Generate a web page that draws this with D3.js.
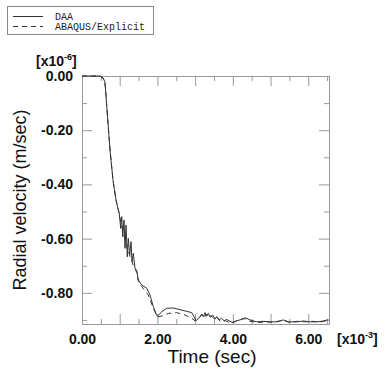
<!DOCTYPE html>
<html>
<head>
<meta charset="utf-8">
<script src="https://cdn.jsdelivr.net/npm/d3@7"></script>
<style>
  body { margin: 0; background: #fff; }
  svg { display: block; }
  .tick text { font-family: "Liberation Sans", Arial, sans-serif; font-size: 14px; font-weight: bold; fill: #111; }
  .axis path, .axis line { stroke: #999; }
</style>
</head>
<body>
<script>
// time in 1e-3 sec, radial velocity in 1e-6 m/sec
var daaTime = [0, 0.48, 0.56, 0.61, 0.663, 0.743, 0.822, 0.902, 0.963, 0.989, 1.027, 1.053, 1.080, 1.114,
  1.141, 1.167, 1.202, 1.228, 1.265, 1.300, 1.326, 1.361, 1.406, 1.451, 1.493, 1.584, 1.716, 1.804,
  1.891, 1.963, 1.997, 2.114, 2.247, 2.422, 2.910, 2.971, 3.024, 3.130, 3.175, 3.218, 3.263, 3.308,
  3.350, 3.395, 3.467, 3.528, 3.573, 3.634, 3.70, 3.77, 3.838, 3.92, 4.013, 4.10, 4.191, 4.324, 4.456,
  4.634, 4.80, 4.987, 5.164, 5.340, 5.472, 5.695, 5.870, 6.048, 6.225, 6.401, 6.533]
var daaVel = [0, 0, -0.007, -0.022, -0.125, -0.273, -0.384, -0.458, -0.494, -0.507, -0.562, -0.519, -0.593, -0.531,
  -0.636, -0.550, -0.667, -0.599, -0.661, -0.611, -0.685, -0.654, -0.710, -0.716, -0.753, -0.771, -0.783, -0.808,
  -0.851, -0.878, -0.886, -0.870, -0.857, -0.856, -0.873, -0.888, -0.903, -0.888, -0.878, -0.888, -0.873, -0.886,
  -0.876, -0.890, -0.882, -0.897, -0.888, -0.900, -0.894, -0.903, -0.898, -0.905, -0.910, -0.903, -0.900, -0.892, -0.900,
  -0.907, -0.905, -0.907, -0.907, -0.900, -0.907, -0.907, -0.904, -0.907, -0.907, -0.904, -0.899]

var abqTime = [0, 0.47, 0.53, 0.58, 0.62, 0.663, 0.743, 0.822, 0.902, 0.963, 1.00, 1.04, 1.08, 1.12, 1.16,
  1.20, 1.24, 1.28, 1.32, 1.36, 1.40, 1.45, 1.49, 1.584, 1.759, 1.891, 1.997, 2.114, 2.289, 2.512, 2.732,
  2.910, 2.997, 3.05, 3.12, 3.18, 3.24, 3.30, 3.36, 3.42, 3.50, 3.58, 3.66, 3.80, 3.95, 4.10, 4.30, 4.45,
  4.65, 5.0, 5.2, 5.35, 5.5, 5.7, 5.9, 6.1, 6.3, 6.53]
var abqVel = [0, 0, -0.004, -0.015, -0.04, -0.125, -0.273, -0.384, -0.458, -0.494, -0.52, -0.545, -0.57, -0.59, -0.61,
  -0.635, -0.65, -0.67, -0.68, -0.70, -0.71, -0.725, -0.755, -0.777, -0.808, -0.857, -0.888, -0.886, -0.876, -0.873, -0.882,
  -0.894, -0.903, -0.90, -0.89, -0.88, -0.892, -0.878, -0.89, -0.884, -0.895, -0.89, -0.905, -0.903, -0.912, -0.903, -0.895, -0.905,
  -0.909, -0.908, -0.905, -0.902, -0.909, -0.905, -0.907, -0.905, -0.908, -0.902]

var xMajor = [0, 1, 2, 3, 4, 5, 6]
var xMinor = [0.5, 1.5, 2.5, 3.5, 4.5, 5.5, 6.5]
var xLabels = [0, 2, 4, 6]
var yMajor = [0, -0.2, -0.4, -0.6, -0.8]
var yMinor = [-0.1, -0.3, -0.5, -0.7, -0.9]

var series = [
  {name: 'DAA', t: daaTime, v: daaVel, dash: null},
  {name: 'ABAQUS/Explicit', t: abqTime, v: abqVel, dash: '5,4'}
]

var width = 392, height = 378
var svg = d3.select('body').append('svg').attr('width', width).attr('height', height)

var x = d3.scaleLinear().domain([0, 6.55]).range([82, 329])
var y = d3.scaleLinear().domain([-0.915, 0]).range([324, 76])

var fmt = d => Math.abs(d) < 1e-9 ? '0.00' : d.toFixed(2)

function axisG(cls){ return svg.append('g').attr('class', 'axis ' + cls) }

// bottom axis
axisG('xb').attr('transform', 'translate(0,324)')
  .call(d3.axisBottom(x).tickValues(xMajor).tickSize(-10).tickPadding(10)
    .tickFormat(d => xLabels.includes(d) ? fmt(d) : ''))
axisG('xbm').attr('transform', 'translate(0,324)')
  .call(d3.axisBottom(x).tickValues(xMinor).tickSize(-5).tickFormat(''))
// top axis
axisG('xt').attr('transform', 'translate(0,76)')
  .call(d3.axisTop(x).tickValues(xMajor).tickSize(-10).tickFormat(''))
axisG('xtm').attr('transform', 'translate(0,76)')
  .call(d3.axisTop(x).tickValues(xMinor).tickSize(-5).tickFormat(''))
// left axis
axisG('yl').attr('transform', 'translate(82,0)')
  .call(d3.axisLeft(y).tickValues(yMajor).tickSize(-10).tickPadding(9).tickFormat(fmt))
axisG('ylm').attr('transform', 'translate(82,0)')
  .call(d3.axisLeft(y).tickValues(yMinor).tickSize(-5).tickFormat(''))
// right axis
axisG('yr').attr('transform', 'translate(329,0)')
  .call(d3.axisRight(y).tickValues(yMajor).tickSize(-10).tickFormat(''))
axisG('yrm').attr('transform', 'translate(329,0)')
  .call(d3.axisRight(y).tickValues(yMinor).tickSize(-5).tickFormat(''))

svg.selectAll('.axis path').attr('stroke', '#999')
svg.selectAll('.axis line').attr('stroke', '#999')

var line = d3.line().x(d => x(d[0])).y(d => y(d[1]))

svg.selectAll('path.series').data(series).join('path')
  .attr('class', 'series')
  .attr('d', s => line(s.t.map((t, i) => [t, s.v[i]])))
  .attr('fill', 'none')
  .attr('stroke', '#333')
  .attr('stroke-width', 1)
  .attr('stroke-dasharray', s => s.dash)

// exponent labels
var expFont = '"Liberation Sans", Arial, sans-serif'
function expLabel(px, py, exp){
  var t = svg.append('text').attr('x', px).attr('y', py)
    .attr('font-family', expFont).attr('font-size', 14).attr('font-weight', 'bold').attr('fill', '#111')
  t.append('tspan').text('[x10')
  t.append('tspan').attr('font-size', 9).attr('dy', -6).text(exp)
  t.append('tspan').attr('dy', 6).text(']')
}
expLabel(36, 66, '-6')
expLabel(337, 344, '-3')

// axis titles
svg.append('text')
  .attr('x', 212).attr('y', 363)
  .attr('text-anchor', 'middle')
  .attr('font-family', expFont).attr('font-size', 19).attr('fill', '#111')
  .text('Time (sec)')

svg.append('text')
  .attr('transform', 'translate(26,200) rotate(-90)')
  .attr('text-anchor', 'middle')
  .attr('font-family', expFont).attr('font-size', 18).attr('fill', '#111')
  .text('Radial velocity (m/sec)')

// legend
var leg = svg.append('g')
leg.append('rect').attr('x', 7.5).attr('y', 6.5).attr('width', 146).attr('height', 28)
  .attr('fill', '#fff').attr('stroke', '#888')
leg.selectAll('g.item').data(series).join('g')
  .attr('class', 'item')
  .attr('transform', (d, i) => 'translate(0,' + (16 + i * 10) + ')')
  .each(function(d){
    var g = d3.select(this)
    g.append('line').attr('x1', 13).attr('x2', 43).attr('y1', 0.5).attr('y2', 0.5)
      .attr('stroke', '#333').attr('stroke-dasharray', d.dash)
    g.append('text').attr('x', 55).attr('y', 3.5)
      .attr('font-family', '"Liberation Mono", monospace').attr('font-size', 10).attr('fill', '#222')
      .text(d.name)
  })
</script>
</body>
</html>
